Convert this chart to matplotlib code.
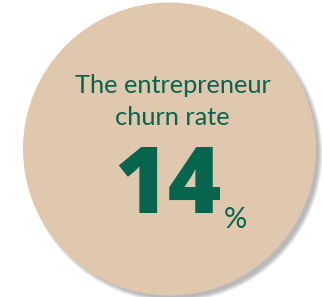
import matplotlib
matplotlib.use("Agg")
import matplotlib.pyplot as plt
from matplotlib.patches import Circle

# Data
title_lines = ["The entrepreneur", "churn rate"]
value = 14
unit = "%"

W, H = 322, 297
fig = plt.figure(figsize=(W / 100, H / 100), dpi=100)
ax = fig.add_axes([0, 0, 1, 1])
ax.set_xlim(0, W)
ax.set_ylim(H, 0)
ax.set_aspect("equal")
ax.axis("off")

cx, cy, r = 169.5, 149, 146.5
fill = "#E0C8AF"
green = "#05654D"

# soft shadow
for i in range(8):
    ax.add_patch(Circle((cx + 4, cy + 4), r + 2.5 - i * 0.6,
                        facecolor="#505050", edgecolor="none", alpha=0.06))
ax.add_patch(Circle((cx, cy), r, facecolor=fill, edgecolor="none"))

ax.text(172.5, 93, title_lines[0], ha="center", va="baseline",
        fontsize=18.3, color=green, family="Lato")
ax.text(172.5, 125, title_lines[1], ha="center", va="baseline",
        fontsize=18.3, color=green, family="Lato")
ax.text(168, 213, str(value), ha="center", va="baseline",
        fontsize=66, color=green, family="Open Sans", fontweight=800)
ax.text(235, 228, unit, ha="center", va="baseline",
        fontsize=21, color=green, family="Lato")

fig.savefig("out.png", dpi=100)
